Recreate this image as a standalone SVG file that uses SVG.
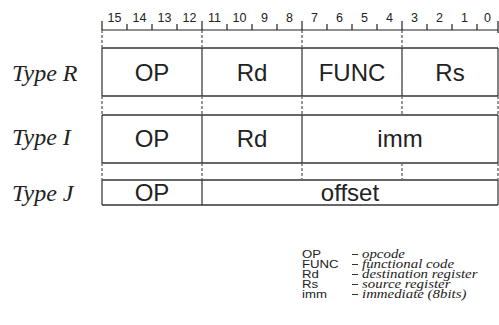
<svg xmlns="http://www.w3.org/2000/svg" width="499" height="325" viewBox="0 0 499 325">
<style>
.bg{fill:#fff}
.rul{stroke:#222;stroke-width:1.2;fill:none}
.dig{font-family:"Liberation Sans",Arial,sans-serif;font-size:12.5px;fill:#222;text-anchor:middle}
.hl{stroke:#666;stroke-width:2.2}
.vl{stroke:#333;stroke-width:1.2}
.guide{stroke:#444;stroke-width:1.1;stroke-dasharray:3 2;fill:none}
.fld{font-family:"Liberation Sans",Arial,sans-serif;font-size:24px;fill:#222;text-anchor:middle}
.typ{font-family:"Liberation Serif","Times New Roman",serif;font-style:italic;font-size:24px;fill:#222}
.lk{font-family:"Liberation Sans",Arial,sans-serif;font-size:11px;fill:#222}
.lv{font-family:"Liberation Serif","Times New Roman",serif;font-style:italic;font-size:12px;fill:#222}
.dash{stroke:#333;stroke-width:1.1}
</style>
<rect class="bg" x="0" y="0" width="499" height="325"/>
<g id="ruler">
<line class="rul" x1="102" y1="30" x2="498" y2="30"/>
<path class="rul" d="M102 21V30M202 21V30M302 21V30M402 21V30M498 21V33"/>
<path class="rul" d="M127 24V30M152 24V30M177 24V30M227 24V30M252 24V30M277 24V30M327 24V30M352 24V30M377 24V30M427 24V30M452 24V30M477 24V30"/>
<text class="dig" x="114.5" y="21.5">15</text>
<text class="dig" x="139.5" y="21.5">14</text>
<text class="dig" x="164.5" y="21.5">13</text>
<text class="dig" x="189.5" y="21.5">12</text>
<text class="dig" x="214.5" y="21.5">11</text>
<text class="dig" x="239.5" y="21.5">10</text>
<text class="dig" x="264.5" y="21.5">9</text>
<text class="dig" x="289.5" y="21.5">8</text>
<text class="dig" x="314.5" y="21.5">7</text>
<text class="dig" x="339.5" y="21.5">6</text>
<text class="dig" x="364.5" y="21.5">5</text>
<text class="dig" x="389.5" y="21.5">4</text>
<text class="dig" x="414.5" y="21.5">3</text>
<text class="dig" x="439.5" y="21.5">2</text>
<text class="dig" x="464.5" y="21.5">1</text>
<text class="dig" x="487.5" y="21.5">0</text>
</g>
<g id="connectors">
<path class="guide" d="M102 30V48M202 30V48M302 30V48M402 30V48"/>
<path class="guide" d="M102 96V115M202 96V115M302 96V115M402 96V115M498 96V115"/>
<path class="guide" d="M102 163V180M202 163V180M302 163V180M402 163V180M498 163V180"/>
</g>
<g id="type-R">
<text class="typ" x="12" y="81">Type R</text>
<line class="hl" x1="102" y1="48" x2="498" y2="48"/>
<line class="hl" x1="102" y1="96" x2="498" y2="96"/>
<path class="vl" d="M102 48V96M202 48V96M302 48V96M402 48V96M498 48V96"/>
<text class="fld" x="152" y="81">OP</text>
<text class="fld" x="252" y="81">Rd</text>
<text class="fld" x="352" y="81">FUNC</text>
<text class="fld" x="450" y="81">Rs</text>
</g>
<g id="type-I">
<text class="typ" x="12" y="145">Type I</text>
<line class="hl" x1="102" y1="115" x2="498" y2="115"/>
<line class="hl" x1="102" y1="163" x2="498" y2="163"/>
<path class="vl" d="M102 115V163M202 115V163M302 115V163M498 115V163"/>
<text class="fld" x="152" y="147">OP</text>
<text class="fld" x="252" y="147">Rd</text>
<text class="fld" x="400" y="147">imm</text>
</g>
<g id="type-J">
<text class="typ" x="12" y="201">Type J</text>
<line class="hl" x1="102" y1="180" x2="498" y2="180"/>
<line class="hl" x1="102" y1="205" x2="498" y2="205"/>
<path class="vl" d="M102 180V205M202 180V205M498 180V205"/>
<text class="fld" x="152" y="201">OP</text>
<text class="fld" x="350" y="201">offset</text>
</g>
<g id="legend">
<g transform="translate(302 0) scale(1.2 1)">
<text class="lk" x="0" y="258">OP</text>
<text class="lk" x="0" y="268">FUNC</text>
<text class="lk" x="0" y="278">Rd</text>
<text class="lk" x="0" y="288">Rs</text>
<text class="lk" x="0" y="298">imm</text>
</g>
<path class="dash" d="M352 254.5H358M352 264.5H358M352 274.5H358M352 284.5H358M352 294.5H358"/>
<g transform="translate(362 0) scale(1.24 1)">
<text class="lv" x="0" y="258">opcode</text>
<text class="lv" x="0" y="268">functional code</text>
<text class="lv" x="0" y="278">destination register</text>
<text class="lv" x="0" y="288">source register</text>
<text class="lv" x="0" y="298">immediate (8bits)</text>
</g>
</g>
</svg>
